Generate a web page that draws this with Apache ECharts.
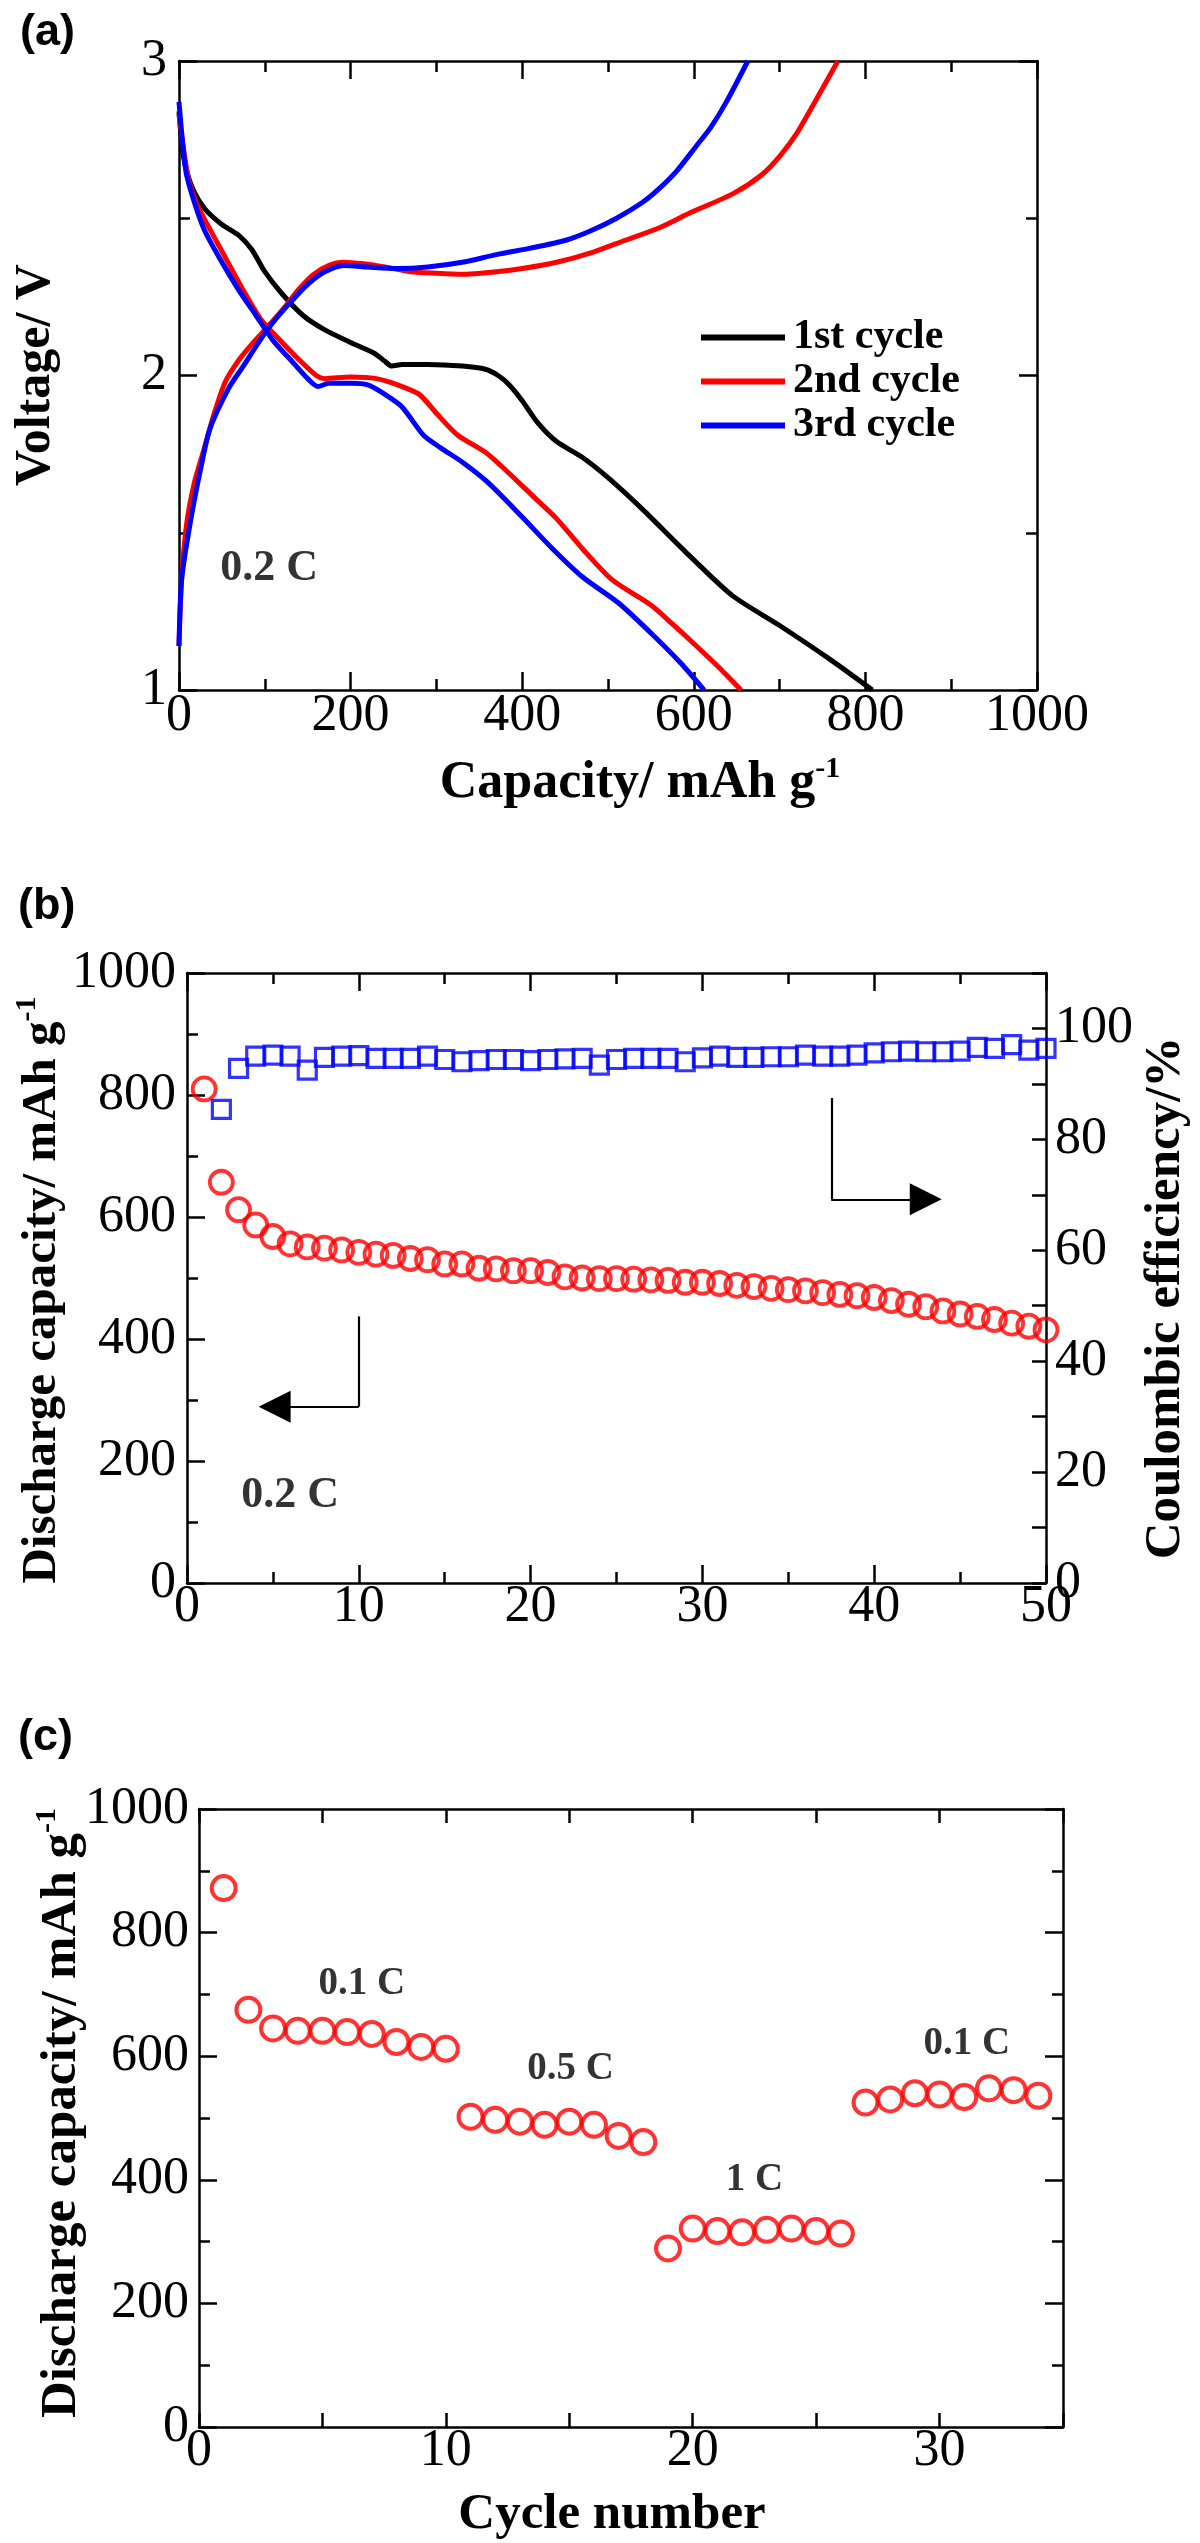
<!DOCTYPE html>
<html><head><meta charset="utf-8">
<script src="https://cdn.jsdelivr.net/npm/echarts@6/dist/echarts.min.js"></script>
<style>html,body{margin:0;padding:0;background:#fff}#c{width:1200px;height:2543px}</style>
</head><body><div id="c"></div>
<script>
// ---------- Panel (a): voltage profiles ----------
const dis1Cap = [0, 5, 15, 30, 50, 70, 85, 100, 120, 145, 170, 200, 228, 240, 248, 260, 290, 330, 357, 372, 385, 400, 418, 440, 470, 500, 540, 590, 645, 700, 760, 808];
const dis1V   = [2.84, 2.70, 2.60, 2.53, 2.48, 2.445, 2.40, 2.33, 2.26, 2.19, 2.145, 2.105, 2.07, 2.045, 2.03, 2.035, 2.035, 2.03, 2.02, 2.0, 1.97, 1.92, 1.85, 1.79, 1.74, 1.675, 1.575, 1.44, 1.30, 1.205, 1.095, 1.0];
const dis2Cap = [0, 10, 20, 35, 55, 75, 95, 115, 140, 160, 170, 200, 230, 255, 280, 300, 325, 360, 415, 440, 470, 505, 550, 575, 603, 630, 655];
const dis2V   = [2.83, 2.64, 2.55, 2.47, 2.37, 2.27, 2.18, 2.12, 2.05, 2.0, 1.99, 1.995, 1.99, 1.97, 1.94, 1.88, 1.81, 1.75, 1.61, 1.545, 1.45, 1.35, 1.27, 1.21, 1.14, 1.07, 1.0];
const dis3Cap = [0, 8, 18, 30, 50, 70, 90, 110, 130, 150, 162, 175, 200, 220, 240, 260, 285, 305, 330, 360, 400, 435, 470, 513, 558, 585, 612];
const dis3V   = [2.87, 2.65, 2.55, 2.46, 2.36, 2.27, 2.19, 2.11, 2.05, 1.99, 1.965, 1.975, 1.975, 1.97, 1.94, 1.90, 1.81, 1.77, 1.725, 1.66, 1.55, 1.45, 1.36, 1.275, 1.16, 1.085, 1.0];
const chg2Cap = [0, 3, 9, 18, 27, 40, 54, 70, 85, 105, 121, 140, 156, 175, 192, 215, 240, 270, 300, 330, 370, 400, 440, 480, 520, 560, 594, 647, 680, 701, 720, 737, 768];
const chg2V   = [1.14, 1.35, 1.53, 1.66, 1.745, 1.87, 1.98, 2.05, 2.10, 2.16, 2.21, 2.275, 2.32, 2.35, 2.36, 2.355, 2.345, 2.33, 2.325, 2.322, 2.33, 2.34, 2.36, 2.39, 2.43, 2.47, 2.515, 2.58, 2.64, 2.70, 2.77, 2.85, 3.0];
const chg3Cap = [0, 3, 13, 25, 36, 58, 75, 94, 110, 129, 150, 170, 192, 220, 254, 290, 330, 371, 410, 451, 480, 510, 540, 558, 580, 603, 620, 638, 663];
const chg3V   = [1.14, 1.35, 1.53, 1.70, 1.83, 1.96, 2.03, 2.11, 2.17, 2.23, 2.29, 2.33, 2.35, 2.345, 2.34, 2.345, 2.36, 2.385, 2.405, 2.43, 2.46, 2.50, 2.55, 2.59, 2.65, 2.73, 2.79, 2.87, 3.0];
const legendNames = ['1st cycle', '2nd cycle', '3rd cycle'];

// ---------- Panel (b): cycling at 0.2 C ----------
const cyclesB = Array.from({length: 50}, (_, i) => i + 1);
const capB = [810, 657, 612, 587, 568, 556, 551, 549, 546, 542, 539, 537, 532, 530, 523, 523, 516, 515, 512, 512,
              509, 502, 500, 499, 499, 498, 497, 496, 493, 493, 491, 488, 486, 483, 481, 479, 476, 473, 471, 468,
              463, 457, 453, 446, 441, 437, 432, 426, 421, 415];
const ceCycles = cyclesB.slice(1);
const ceB = [85.4, 92.8, 95.0, 95.2, 95.0, 92.5, 94.8, 95.0, 95.1, 94.6, 94.6, 94.6, 95.0, 94.4, 94.0, 94.2, 94.4, 94.4, 94.2,
             94.4, 94.5, 94.6, 93.4, 94.4, 94.6, 94.6, 94.6, 94.0, 94.7, 95.0, 94.8, 94.8, 94.9, 94.9, 95.2, 95.0, 95.0, 95.2,
             95.6, 95.8, 95.9, 95.8, 95.8, 95.9, 96.6, 96.4, 97.1, 96.1, 96.4];

// ---------- Panel (c): rate capability ----------
const cyclesC = Array.from({length: 34}, (_, i) => i + 1);
const capC = [872, 675, 645, 641, 641, 639, 636, 623, 615, 612,
              502, 497, 494, 489, 494, 489, 471, 461,
              289, 321, 317, 315, 319, 321, 317, 313,
              525, 530, 540, 538, 534, 548, 545, 536];
const rateLabels = ['0.1 C', '0.5 C', '1 C', '0.1 C'];
const rateLabelX = [6.6, 15.05, 22.5, 31.1];
const rateLabelY = [717, 580, 400, 620];

// ---------- helpers ----------
const SERIF = '"Liberation Serif", "Times New Roman", serif';
const SANS = '"Liberation Sans", Arial, sans-serif';
const zip = (a, b) => a.map((v, i) => [v, b[i]]);
const lw = 2.5;
const plain = v => String(v);
const lab = (margin, formatter) => ({show: true, fontFamily: SERIF, fontSize: 52, color: '#000', margin, formatter: formatter || plain});
function axis(gridIndex, position, min, max, interval, extra) {
  return Object.assign({
    type: 'value', gridIndex, position, min, max, interval,
    axisLine: {show: true, onZero: false, lineStyle: {color: '#000', width: lw}},
    axisTick: {show: true, inside: true, length: 18, lineStyle: {color: '#000', width: lw}},
    minorTick: {show: true, splitNumber: 2, length: 11, lineStyle: {color: '#000', width: lw}},
    splitLine: {show: false}, minorSplitLine: {show: false},
    axisLabel: lab(0)
  }, extra || {});
}
const noLabel = {show: false};
const uniformTicks = {
  axisTick: {show: true, inside: true, length: 14, lineStyle: {color: '#000', width: lw}},
  minorTick: {show: false}
};

// axis titles (bold serif, optional superscript)
function title(text, sup, x, y, size, rotated) {
  const rich = {
    t: {fontFamily: SERIF, fontWeight: 'bold', fontSize: size, fill: '#000', lineHeight: 60},
    s: {fontFamily: SERIF, fontWeight: 'bold', fontSize: 30, fill: '#000', lineHeight: 30, verticalAlign: 'top'}
  };
  return {
    type: 'text', x, y, rotation: rotated ? Math.PI / 2 : 0, silent: true,
    style: {text: '{t|' + text + '}' + (sup ? '{s|' + sup + '}' : ''), rich, align: 'center', verticalAlign: 'middle'}
  };
}
const panelTag = (t, x, y) => ({type: 'text', x, y, silent: true,
  style: {text: t, fontFamily: SANS, fontWeight: 'bold', fontSize: 45, fill: '#000', align: 'left', verticalAlign: 'middle'}});

const lineSeries = (name, cap, v, color) => ({
  type: 'line', name, xAxisIndex: 0, yAxisIndex: 0, data: zip(cap, v),
  showSymbol: false, symbol: 'none', smooth: 0.25,
  lineStyle: {color, width: 5}, itemStyle: {color}
});
const textSeries = (xi, yi, xs, ys, texts, size) => ({
  type: 'scatter', xAxisIndex: xi, yAxisIndex: yi, symbolSize: 1, silent: true,
  itemStyle: {color: 'rgba(0,0,0,0)'},
  data: xs.map((x, i) => ({value: [x, ys[i]], label: {formatter: texts[i]}})),
  label: {show: true, position: 'inside', fontFamily: SERIF, fontWeight: 'bold', fontSize: size, color: '#000'}
});

const option = {
  animation: false,
  backgroundColor: '#fff',
  textStyle: {fontFamily: SERIF, color: '#000'},
  grid: [
    {left: 179, top: 61, width: 858, height: 629},
    {left: 187, top: 973, width: 859, height: 610},
    {left: 199, top: 1809, width: 864, height: 618}
  ],
  xAxis: [
    axis(0, 'bottom', 0, 1000, 200),
    axis(0, 'top', 0, 1000, 200, {axisLabel: noLabel}),
    axis(1, 'bottom', 0, 50, 10, {axisLabel: lab(-2)}),
    axis(1, 'top', 0, 50, 10, {axisLabel: noLabel}),
    axis(2, 'bottom', 0, 35, 5, Object.assign({axisLabel: lab(-2, v => (v % 10 === 0 ? String(v) : ''))}, uniformTicks)),
    axis(2, 'top', 0, 35, 5, Object.assign({axisLabel: noLabel}, uniformTicks))
  ],
  yAxis: [
    axis(0, 'left', 1, 3, 1, {axisLabel: lab(12)}),
    axis(0, 'right', 1, 3, 1, {axisLabel: noLabel}),
    axis(1, 'left', 0, 1000, 200, {axisLabel: lab(11)}),
    axis(1, 'right', 0, 110, 10, Object.assign({axisLabel: lab(9, v => (v % 20 === 0 && v <= 100 ? String(v) : ''))}, uniformTicks)),
    axis(2, 'left', 0, 1000, 200, {axisLabel: lab(10)}),
    axis(2, 'right', 0, 1000, 200, {axisLabel: noLabel})
  ],
  legend: {
    data: legendNames, orient: 'vertical', left: 696, top: 311,
    itemWidth: 84, itemHeight: 6, itemGap: 1, icon: 'rect', selectedMode: false,
    textStyle: {fontFamily: SERIF, fontWeight: 'bold', fontSize: 42, color: '#000', lineHeight: 43, padding: [0, 0, 0, 3]}
  },
  graphic: [
    panelTag('(a)', 20, 33),
    panelTag('(b)', 18, 907),
    panelTag('(c)', 18, 1738),
    title('Capacity/ mAh g', '-1', 640, 784, 52, false),
    title('Voltage/ V', '', 36, 375, 50, true),
    title('Discharge capacity/ mAh g', '-1', 42, 1290, 49, true),
    title('Coulombic efficiency/%', '', 1166, 1298, 51, true),
    title('Discharge capacity/ mAh g', '-1', 62, 2113, 51, true),
    title('Cycle number', '', 612, 2515, 51, false)
  ],
  series: [
    lineSeries('1st cycle', dis1Cap, dis1V, '#000000'),
    lineSeries('2nd cycle', dis2Cap, dis2V, '#ff0000'),
    lineSeries('2nd cycle', chg2Cap, chg2V, '#ff0000'),
    lineSeries('3rd cycle', dis3Cap, dis3V, '#0000ff'),
    lineSeries('3rd cycle', chg3Cap, chg3V, '#0000ff'),
    textSeries(0, 0, [105], [1.385], ['0.2 C'], 44),
    // (b)
    {type: 'scatter', name: 'Discharge capacity', xAxisIndex: 2, yAxisIndex: 2, data: zip(cyclesB, capB),
     symbol: 'circle', symbolSize: 23, itemStyle: {color: 'rgba(255,255,255,0)', borderColor: '#ff0000', borderWidth: 3.8}},
    {type: 'scatter', name: 'Coulombic efficiency', xAxisIndex: 2, yAxisIndex: 3, data: zip(ceCycles, ceB),
     symbol: 'rect', symbolSize: 18, itemStyle: {color: 'rgba(255,255,255,0)', borderColor: '#0000ff', borderWidth: 3.2}},
    {type: 'lines', coordinateSystem: 'cartesian2d', xAxisIndex: 2, yAxisIndex: 2, silent: true,
     lineStyle: {color: '#000', width: 2.2, opacity: 1, curveness: 0}, symbol: ['none', 'none'],
     data: [{coords: [[37.5, 795], [37.5, 629]]}, {coords: [[10.0, 437], [10.0, 289]]}]},
    {type: 'lines', coordinateSystem: 'cartesian2d', xAxisIndex: 2, yAxisIndex: 2, silent: true,
     lineStyle: {color: '#000', width: 2.2, opacity: 1, curveness: 0}, symbol: ['none', 'triangle'], symbolSize: [17, 32],
     data: [{coords: [[37.5, 629], [43.0, 629]]}, {coords: [[10.0, 289], [5.1, 289]]}]},
    textSeries(2, 2, [6.0], [143], ['0.2 C'], 44),
    // (c)
    {type: 'scatter', name: 'Rate', xAxisIndex: 4, yAxisIndex: 4, data: zip(cyclesC, capC),
     symbol: 'circle', symbolSize: 24, itemStyle: {color: 'rgba(255,255,255,0)', borderColor: '#ff0000', borderWidth: 4}},
    textSeries(4, 4, rateLabelX, rateLabelY, rateLabels, 39)
  ]
};
const chart = echarts.init(document.getElementById('c'), null, {renderer: 'canvas'});
chart.setOption(option);
</script></body></html>
